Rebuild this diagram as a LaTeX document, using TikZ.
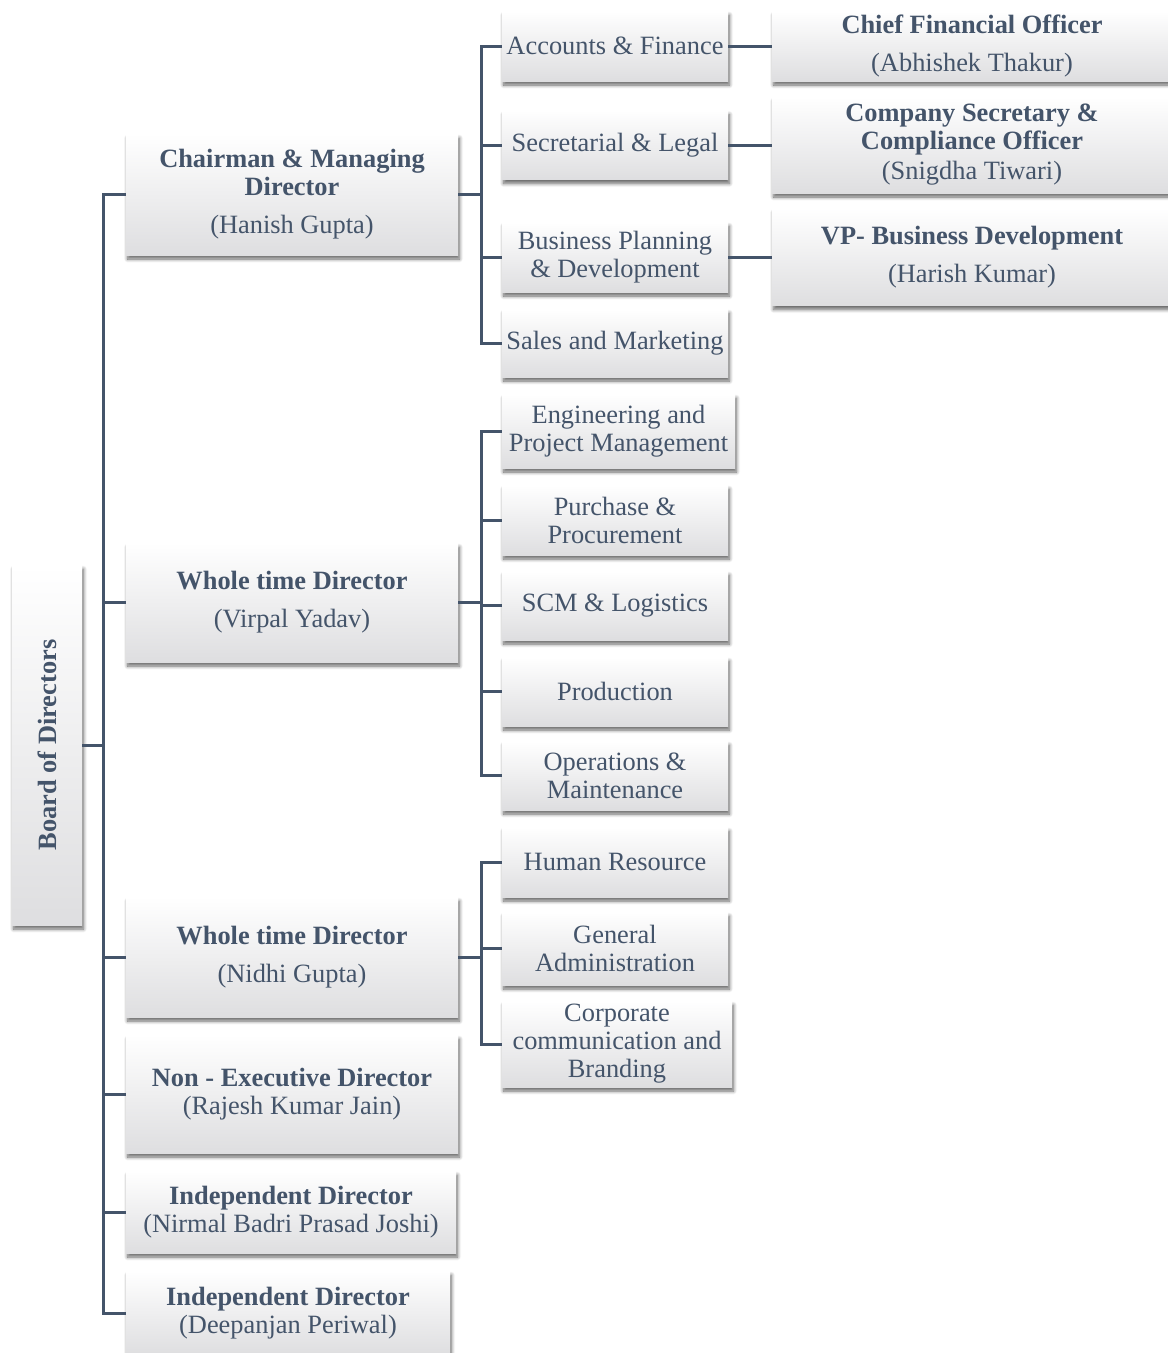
\documentclass[tikz,border=0pt]{standalone}
\usepackage{fontspec}
\setmainfont{Liberation Serif}
\usepackage{tikz}
\usetikzlibrary{shadows.blur}
\definecolor{slate}{RGB}{68, 84, 106}
\definecolor{boxgray}{RGB}{222, 222, 224}

\begin{document}
\begin{tikzpicture}[
    x=1pt, y=-1pt,
    box/.style={top color=white, bottom color=boxgray, text=slate, inner sep=0pt, align=center,
        font=\fontsize{26.4}{28}\selectfont,
        blur shadow={shadow xshift=1.5pt, shadow yshift=-4pt, shadow blur radius=3.5pt, shadow blur steps=8, shadow opacity=60}},
    head/.style={box, minimum width=332pt},
    dept/.style={box, minimum width=226pt, minimum height=70pt},
    officer/.style={box, minimum width=400pt},
    link/.style={draw=slate, line width=3pt}
]
    \useasboundingbox (0,0) rectangle (1168,1353);

    % Board
    \node[box, rotate=90, minimum width=360pt, minimum height=70pt] (board) at (47,745) {\textbf{Board of Directors}};

    % Directors
    \node[head, minimum height=121pt] (chair) at (292,194.5) {\textbf{Chairman \& Managing}\\\textbf{Director}\\[10pt](Hanish Gupta)};
    \node[head, minimum height=119pt] (wtd1) at (292,602.5) {\textbf{Whole time Director}\\[10pt](Virpal Yadav)};
    \node[head, minimum height=120pt] (wtd2) at (292,957) {\textbf{Whole time Director}\\[10pt](Nidhi Gupta)};
    \node[head, minimum height=118pt] (nonexec) at (292,1094) {\textbf{Non - Executive Director}\\(Rajesh Kumar Jain)};
    \node[head, minimum width=330pt, minimum height=82pt] (indep1) at (291,1212) {\textbf{Independent Director}\\(Nirmal Badri Prasad Joshi)};
    \node[head, minimum width=324pt, minimum height=84pt] (indep2) at (288,1313) {\textbf{Independent Director}\\(Deepanjan Periwal)};

    % Departments
    \node[dept] (acc) at (615,46) {Accounts \& Finance};
    \node[dept, minimum height=69pt] (sec) at (615,145) {Secretarial \& Legal};
    \node[dept] (bpd) at (615,257) {Business Planning\\\& Development};
    \node[dept, minimum height=68pt] (sales) at (615,343) {Sales and Marketing};
    \node[dept, minimum width=233pt, minimum height=74pt] (eng) at (618.5,431) {Engineering and\\Project Management};
    \node[dept] (pur) at (615,520) {Purchase \&\\Procurement};
    \node[dept, minimum height=69pt] (scm) at (615,605.5) {SCM \& Logistics};
    \node[dept, minimum height=69pt] (prod) at (615,691.5) {Production};
    \node[dept, minimum height=69pt] (ops) at (615,775.5) {Operations \&\\Maintenance};
    \node[dept] (hr) at (615,862) {Human Resource};
    \node[dept, minimum height=73pt] (ga) at (615,948.5) {General\\Administration};
    \node[dept, minimum width=230pt, minimum height=86pt] (corp) at (617,1044) {Corporate\\communication and\\Branding};

    % Officers
    \node[officer, minimum height=70pt] (cfo) at (972,46) {\textbf{Chief Financial Officer}\\[10pt](Abhishek Thakur)};
    \node[officer, minimum height=96pt] (cso) at (972,145) {\textbf{Company Secretary \&}\\\textbf{Compliance Officer}\\[2pt](Snigdha Tiwari)};
    \node[officer, minimum height=97pt] (vp) at (972,257) {\textbf{VP- Business Development}\\[10pt](Harish Kumar)};

    % Connectors
    \foreach \n in {chair,wtd1,wtd2,nonexec,indep1,indep2}
        \draw[link] (board.south) -- ++(21,0) |- (\n.west);
    \foreach \n in {acc,sec,bpd,sales}
        \draw[link] (chair.east) -- ++(23,0) |- (\n.west);
    \foreach \n in {eng,pur,scm,prod,ops}
        \draw[link] (wtd1.east) -- ++(23,0) |- (\n.west);
    \foreach \n in {hr,ga,corp}
        \draw[link] (wtd2.east) -- ++(23,0) |- (\n.west);
    \draw[link] (acc) -- (cfo);
    \draw[link] (sec) -- (cso);
    \draw[link] (bpd) -- (vp);
\end{tikzpicture}
\end{document}
